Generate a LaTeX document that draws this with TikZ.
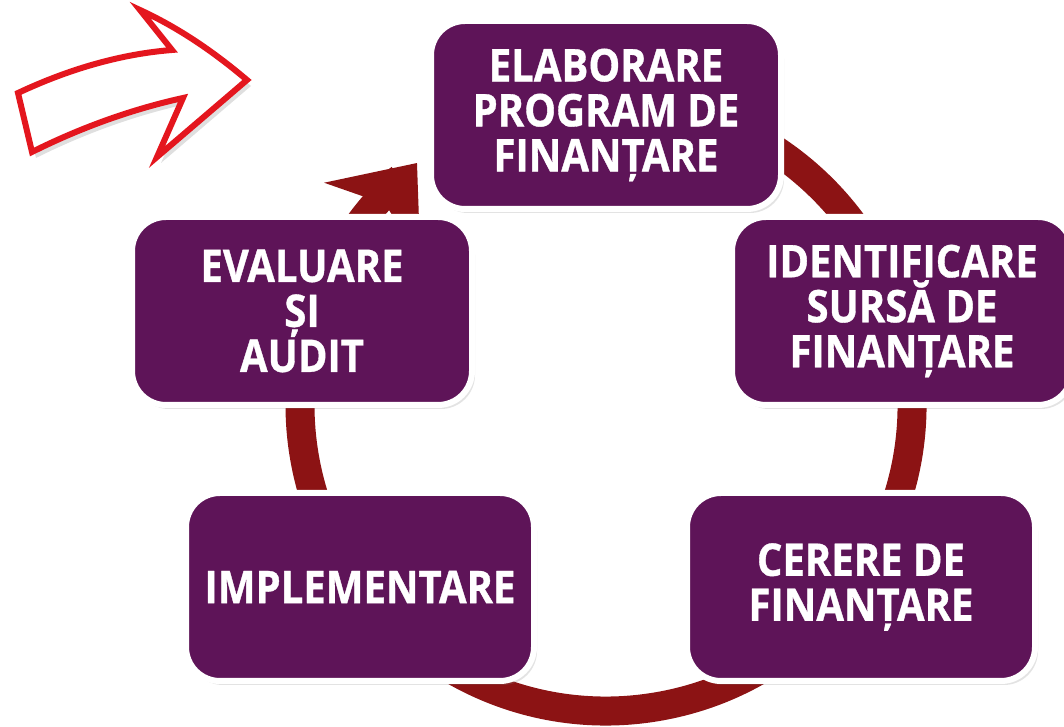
\documentclass[tikz,border=0pt]{standalone}
\usepackage{fontspec}
\newfontfamily\stagefont[FakeStretch=0.89,BoldFeatures={FakeBold=0.8}]{Open Sans}
\usetikzlibrary{arrows.meta,shadows}
\definecolor{stagepurple}{RGB}{94,20,88}
\definecolor{cyclered}{RGB}{140,19,20}
\definecolor{pointerred}{RGB}{228,22,30}
\tikzset{
  stage/.style={draw=white,line width=6pt,fill=stagepurple,rounded corners=34pt,
    text=white,align=center,minimum height=188pt,inner sep=0pt,
    font=\stagefont\bfseries\fontsize{45}{45}\selectfont,
    drop shadow={shadow xshift=3pt,shadow yshift=-4pt,opacity=0.22}},
  cyclering/.style={line width=29pt,draw=cyclered},
  pointer/.style={draw=pointerred,line width=6pt,fill=white,line join=miter,
    drop shadow={shadow xshift=4pt,shadow yshift=-6pt,opacity=0.25}}
}

\begin{document}
\begin{tikzpicture}[x=1pt,y=1pt]
  \useasboundingbox (0,0) rectangle (1064,727);
  \coordinate (hub) at (606,322);
  \coordinate (tip) at (417,564);
  \draw[cyclering] ([shift={(100:306)}]hub) arc[start angle=100,end angle=-228,radius=306];
  \draw[cyclering,-{Stealth[length=72pt,width=120pt,inset=20pt]}] ([shift={(232:40)}]tip) -- (tip);
  \node[stage,minimum width=350pt] (elaborare) at (606,612) {ELABORARE\\PROGRAM DE\\FINANȚARE};
  \node[stage,minimum width=340pt] (identificare) at (902,416) {IDENTIFICARE\\SURSĂ DE\\FINANȚARE};
  \node[stage,minimum width=348pt] (cerere) at (861,140) {CERERE DE\\FINANȚARE};
  \node[stage,minimum width=348pt] (implementare) at (360,140) {IMPLEMENTARE};
  \node[stage,minimum width=340pt] (evaluare) at (302,416) {EVALUARE\\ȘI\\AUDIT};
  \draw[pointer] (18,634) -- (32,575) .. controls (82,600) and (133,618) .. (183,629)
    -- (157,570) -- (247,647) .. controls (214,675) and (179,699) .. (140,717)
    -- (172,677) .. controls (121,673) and (69,658) .. cycle;
\end{tikzpicture}
\end{document}
